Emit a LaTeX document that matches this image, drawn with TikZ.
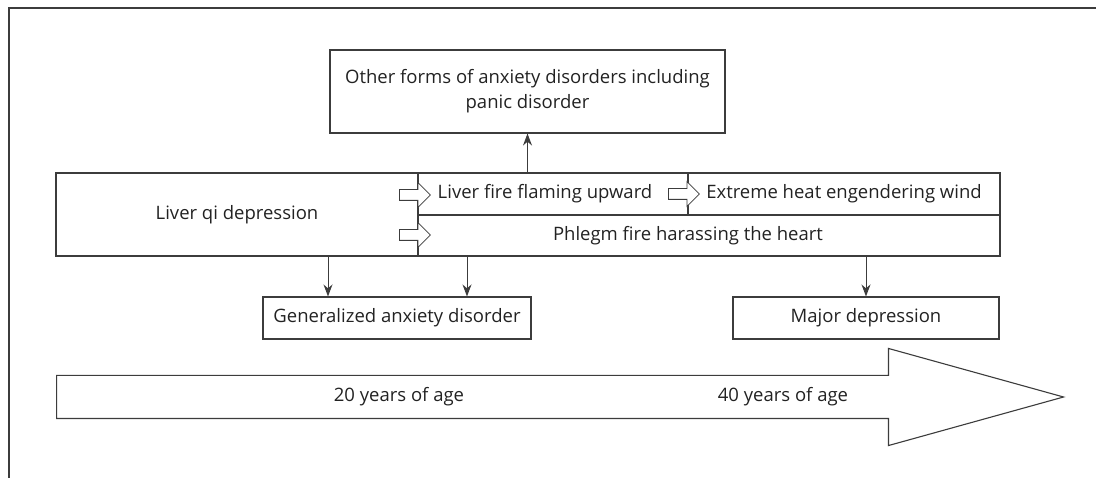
\documentclass[tikz,border=0pt]{standalone}
\usepackage{fontspec}
\setmainfont{Open Sans}
\usetikzlibrary{arrows.meta,shapes.arrows}
\definecolor{linecol}{HTML}{3C3C3C}
\definecolor{textcol}{HTML}{222222}

\begin{document}
\begin{tikzpicture}[x=1pt,y=-1pt,line width=1.1pt,
		font=\fontsize{18.5}{25}\selectfont,text=textcol]
		\useasboundingbox (0,0) rectangle (1096,478);
		\draw[linecol] (1096,8) -- (9,8) -- (9,478);

		\begin{scope}[box/.style={rectangle,draw=linecol,inner sep=0pt},
					  hollow/.style={single arrow,draw=linecol,fill=white,line width=0.8pt,
						  inner xsep=0pt,inner ysep=5pt,minimum height=31pt,minimum width=24pt,
						  single arrow head extend=7pt,anchor=tail}]
			\node[box,minimum width=395pt,minimum height=83pt,align=center] (other) at (527.5,91.5)
				{Other forms of anxiety disorders including\\panic disorder};

			\node[box,minimum width=362pt,minimum height=83pt] (liverqi) at (237,214.5) {Liver qi depression};
			\node[box,minimum width=270pt,minimum height=42pt,
				  label={[xshift=-8pt]center:Liver fire flaming upward}] (fire) at (553,194) {};
			\node[box,minimum width=312pt,minimum height=42pt] (wind) at (844,194) {Extreme heat engendering wind};
			\node[box,minimum width=582pt,minimum height=41pt,
				  label={[xshift=-21pt]center:Phlegm fire harassing the heart}] (phlegm) at (709,235.5) {};

			\node[box,minimum width=268pt,minimum height=42pt] (gen) at (397,318) {Generalized anxiety disorder};
			\node[box,minimum width=266pt,minimum height=42pt] (major) at (866,318) {Major depression};

			\node[hollow] (h1) at (399,195) {};
			\node[hollow] (h2) at (399,235) {};
			\node[hollow] (h3) at (668,194) {};

			% time axis
			\node[single arrow,draw=linecol,fill=white,inner xsep=0pt,inner ysep=21pt,anchor=tail,
				  minimum height=1007pt,minimum width=96pt,
				  single arrow head extend=27pt,single arrow tip angle=31] (age) at (56,397) {};
			\node (age20) at (399,397) {20 years of age};
			\node (age40) at (783,397) {40 years of age};
		\end{scope}

		\begin{scope}[>={Stealth[length=12pt,width=9pt]},
					  every edge/.style={draw=linecol,line width=1pt}]
			\path [->] (fire.north -| other.south) edge (other.south);
			\path [->] ([xshift=-69pt]gen.north |- liverqi.south) edge ([xshift=-69pt]gen.north);
			\path [->] ([xshift=70pt]gen.north |- phlegm.south) edge ([xshift=70pt]gen.north);
			\path [->] (phlegm.south -| major.north) edge (major.north);
		\end{scope}
		\end{tikzpicture}
\end{document}
